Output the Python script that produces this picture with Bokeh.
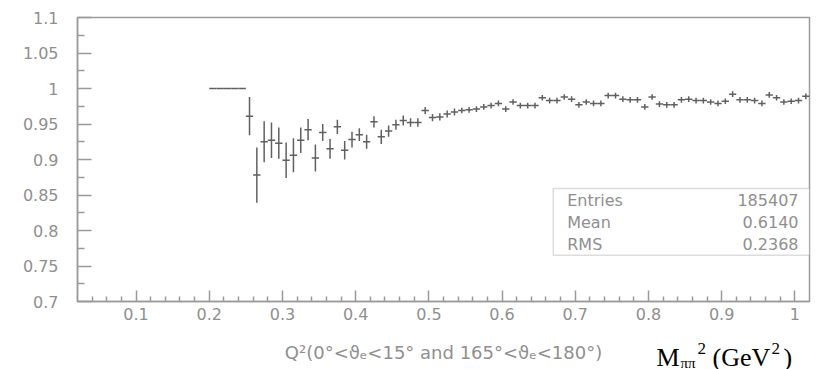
from bokeh.plotting import figure
from bokeh.layouts import column
from bokeh.models import ColumnDataSource, FixedTicker, BoxAnnotation, Label
from bokeh.core.properties import value
from bokeh.embed import file_html
from bokeh.resources import INLINE

# ---- data (bin centres, ratio, error) ----
bin_centers = [0.205, 0.215, 0.225, 0.235, 0.245,
               0.255, 0.265, 0.275, 0.285, 0.295, 0.305, 0.315, 0.325, 0.335, 0.345,
               0.355, 0.365, 0.375, 0.385, 0.395, 0.405, 0.415, 0.425, 0.435, 0.445,
               0.455, 0.465, 0.475, 0.485, 0.495, 0.505, 0.515, 0.525, 0.535, 0.545,
               0.555, 0.565, 0.575, 0.585, 0.595, 0.605, 0.615, 0.625, 0.635, 0.645,
               0.655, 0.665, 0.675, 0.685, 0.695, 0.705, 0.715, 0.725, 0.735, 0.745,
               0.755, 0.765, 0.775, 0.785, 0.795, 0.805, 0.815, 0.825, 0.835, 0.845,
               0.855, 0.865, 0.875, 0.885, 0.895, 0.905, 0.915, 0.925, 0.935, 0.945,
               0.955, 0.965, 0.975, 0.985, 0.995, 1.005, 1.015]
ratio = [1.0, 1.0, 1.0, 1.0, 1.0,
         0.961, 0.878, 0.925, 0.927, 0.923, 0.899, 0.906, 0.927, 0.942, 0.902,
         0.938, 0.915, 0.946, 0.913, 0.928, 0.935, 0.925, 0.953, 0.932, 0.940,
         0.949, 0.955, 0.952, 0.952, 0.969, 0.959, 0.960, 0.964, 0.967, 0.969,
         0.970, 0.971, 0.974, 0.976, 0.979, 0.971, 0.981, 0.976, 0.976, 0.976,
         0.987, 0.983, 0.983, 0.988, 0.985, 0.977, 0.981, 0.979, 0.979, 0.990,
         0.990, 0.985, 0.984, 0.984, 0.974, 0.988, 0.978, 0.977, 0.977, 0.984,
         0.985, 0.983, 0.983, 0.981, 0.979, 0.982, 0.992, 0.984, 0.984, 0.983,
         0.979, 0.991, 0.987, 0.981, 0.982, 0.983, 0.989]
ratio_err = [0.0, 0.0, 0.0, 0.0, 0.0,
             0.027, 0.039, 0.029, 0.025, 0.022, 0.025, 0.024, 0.018, 0.015, 0.019,
             0.012, 0.014, 0.010, 0.013, 0.011, 0.009, 0.010, 0.008, 0.010, 0.008,
             0.007, 0.007, 0.006, 0.006, 0.005, 0.005, 0.005, 0.005, 0.005, 0.004,
             0.004, 0.004, 0.004, 0.004, 0.004, 0.004, 0.004, 0.004, 0.004, 0.004,
             0.004, 0.004, 0.004, 0.004, 0.004, 0.004, 0.004, 0.004, 0.004, 0.004,
             0.004, 0.004, 0.004, 0.004, 0.004, 0.004, 0.004, 0.004, 0.004, 0.004,
             0.004, 0.004, 0.004, 0.004, 0.004, 0.004, 0.004, 0.004, 0.004, 0.004,
             0.004, 0.004, 0.004, 0.004, 0.004, 0.004, 0.004]
bin_width = 0.01

xtick_values = [0.1, 0.2, 0.3, 0.4, 0.5, 0.6, 0.7, 0.8, 0.9, 1.0]
xtick_labels = ["0.1", "0.2", "0.3", "0.4", "0.5", "0.6", "0.7", "0.8", "0.9", "1"]
xminor_values = [0.04, 0.06, 0.08, 0.12, 0.14, 0.16, 0.18, 0.22, 0.24, 0.26, 0.28,
                 0.32, 0.34, 0.36, 0.38, 0.42, 0.44, 0.46, 0.48, 0.52, 0.54, 0.56, 0.58,
                 0.62, 0.64, 0.66, 0.68, 0.72, 0.74, 0.76, 0.78, 0.82, 0.84, 0.86, 0.88,
                 0.92, 0.94, 0.96, 0.98]
ytick_values = [0.7, 0.75, 0.8, 0.85, 0.9, 0.95, 1.0, 1.05, 1.1]
ytick_labels = ["0.7", "0.75", "0.8", "0.85", "0.9", "0.95", "1", "1.05", "1.1"]
yminor_values = [0.725, 0.775, 0.825, 0.875, 0.925, 0.975, 1.025, 1.075]

stats_names = ["Entries", "Mean", "RMS"]
stats_values = ["185407", "0.6140", "0.2368"]

x_title = "Q\u00b2(0\u00b0<\u03d1\u2091<15\u00b0 and 165\u00b0<\u03d1\u2091<180\u00b0)"
quantity_parts = ["M", "\u03c0\u03c0", "2", "(GeV", "2", ")"]

GREY = "#8f8f8f"
MARK = "#606060"
SANS = "DejaVu Sans"
SERIF = "Liberation Serif"

src = ColumnDataSource(dict(
    x=bin_centers,
    y=ratio,
    xl=[c - bin_width / 2 for c in bin_centers],
    xr=[c + bin_width / 2 for c in bin_centers],
    yl=[r - e for r, e in zip(ratio, ratio_err)],
    yh=[r + e for r, e in zip(ratio, ratio_err)],
))

p = figure(width=818, height=327, x_range=(0.02, 1.02), y_range=(0.7, 1.1),
           output_backend="svg", toolbar_location=None,
           min_border_left=77, min_border_right=9, min_border_top=17,
           min_border_bottom=26)
p.background_fill_color = "white"
p.border_fill_color = "white"
p.grid.visible = False
p.outline_line_color = "#9a9a9a"
p.outline_line_width = 1.5

# axes
for ax in (p.xaxis[0], p.yaxis[0]):
    ax.axis_line_color = "#9a9a9a"
    ax.axis_line_width = 1.5
    ax.major_tick_line_color = "#9a9a9a"
    ax.minor_tick_line_color = "#9a9a9a"
    ax.major_tick_line_width = 1.5
    ax.minor_tick_line_width = 1.5
    ax.major_tick_out = 0
    ax.minor_tick_out = 0
    ax.major_label_text_color = GREY
    ax.major_label_text_font = SANS
    ax.major_label_text_font_size = "16px"

p.yaxis.ticker = FixedTicker(ticks=ytick_values, minor_ticks=yminor_values)
p.yaxis.major_label_overrides = dict(zip(ytick_values, ytick_labels))
p.yaxis.major_tick_in = 14
p.yaxis.minor_tick_in = 7
p.yaxis.major_label_standoff = 19

p.xaxis.ticker = FixedTicker(ticks=xtick_values, minor_ticks=xminor_values)
p.xaxis.major_label_overrides = dict(zip(xtick_values, xtick_labels))
p.xaxis.major_tick_in = 11
p.xaxis.minor_tick_in = 5
p.xaxis.major_label_standoff = 6

# data: horizontal bin bars and vertical error bars
p.segment(x0="xl", x1="xr", y0="y", y1="y", source=src, line_color=MARK, line_width=1.5)
p.segment(x0="x", x1="x", y0="yl", y1="yh", source=src, line_color=MARK, line_width=1.5)

# statistics box
p.add_layout(BoxAnnotation(left=0.67, right=1.02, bottom=0.765, top=0.859,
                           fill_color="white", fill_alpha=1.0,
                           line_color="#8a8a8a", line_width=1.5, level="annotation"))
rows_y = [0.8423, 0.8117, 0.7805]
for name, val, yy in zip(stats_names, stats_values, rows_y):
    p.add_layout(Label(x=0.689, y=yy, text=name, text_baseline="middle",
                       text_align="left", text_color=GREY, text_font=SANS,
                       text_font_size="16px"))
    p.add_layout(Label(x=1.005, y=yy, text=val, text_baseline="middle",
                       text_align="right", text_color=GREY, text_font=SANS,
                       text_font_size="16px"))

# strip under the plot: axis title and the quantity label.
# The column aligns this strip's frame with the plot frame (x 77..809 px),
# so its x range is expressed in page pixels over that span.
p2 = figure(width=818, height=42, x_range=(77, 809), y_range=(0, 42),
            output_backend="svg", toolbar_location=None,
            x_axis_type=None, y_axis_type=None,
            min_border_left=77, min_border_right=9, min_border_top=0,
            min_border_bottom=0)
p2.grid.visible = False
p2.outline_line_color = None
p2.background_fill_color = "white"
p2.border_fill_color = "white"

p2.text(x=[443], y=[17], text=[x_title], text_align="center", text_baseline="middle",
        text_font=value(SANS), text_font_size="18px", text_color=GREY)

q_src = ColumnDataSource(dict(
    text=quantity_parts,
    x=[656, 680, 697, 712, 771, 783],
    y=[12, 7, 21, 12, 21, 12],
    size=["26px", "15px", "17px", "26px", "17px", "26px"],
))
p2.text(x="x", y="y", text="text", source=q_src, text_font=value(SERIF),
        text_font_size="size", text_color="black", text_baseline="alphabetic",
        text_align="left")

layout = column(p, p2, spacing=0)
open("out.html", "w").write(file_html(layout, INLINE))
